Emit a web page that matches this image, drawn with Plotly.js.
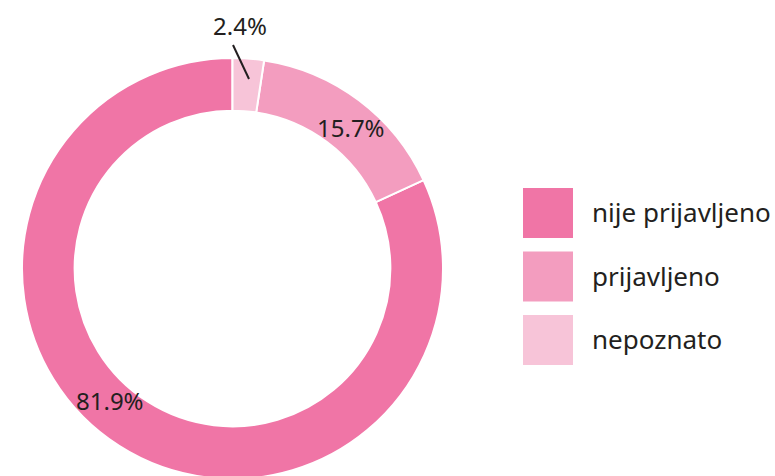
<!DOCTYPE html>
<html>
<head>
<meta charset="utf-8">
<script src="https://cdn.plot.ly/plotly-3.0.1.min.js"></script>
<style>
html,body{margin:0;padding:0;overflow:hidden;background:#fff;}
#chart{width:775px;height:482px;}
</style>
</head>
<body>
<div id="chart"></div>
<script>
const categories = ["nije prijavljeno", "prijavljeno", "nepoznato"];
const values = [81.9, 15.7, 2.4];
const valueLabels = ["81.9%", "15.7%", "2.4%"];
const colors = ["#f075a6", "#f39dbf", "#f7c4d8"];

const W = 775, H = 482;
const px = x => x / W;
const py = y => 1 - y / H;
const cx = 232.5, cy = 268.5, R = 210.5;
const textColor = "#231f20";
const font = "Noto Sans, Open Sans, sans-serif";

const total = values.reduce((a, b) => a + b, 0);
const rot = 360 * (total - values[0]) / total;

const trace = {
  type: "pie",
  labels: categories,
  values: values,
  sort: false,
  direction: "counterclockwise",
  rotation: rot,
  hole: 0.75,
  textinfo: "none",
  hoverinfo: "label+percent",
  marker: {colors: colors, line: {color: "#ffffff", width: 2}},
  domain: {x: [px(cx - R), px(cx + R)], y: [py(cy + R), py(cy - R)]},
  showlegend: false
};

// label positions (text placement only)
const labelPos = [[110, 400], [351, 128], [240, 25]];
const annotations = valueLabels.map((t, i) => ({
  text: t, x: px(labelPos[i][0]), y: py(labelPos[i][1]),
  xref: "paper", yref: "paper", showarrow: false,
  xanchor: "center", yanchor: "middle",
  font: {family: font, size: 24, color: textColor}
}));

// custom legend built from categories/colors
const shapes = [];
const legTop = 188, legStep = 63.5, sq = 50, legX = 523;
categories.forEach((c, i) => {
  const y0 = legTop + i * legStep;
  shapes.push({type: "rect", xref: "paper", yref: "paper",
    x0: px(legX), x1: px(legX + sq), y0: py(y0 + sq), y1: py(y0),
    fillcolor: colors[i], line: {width: 0}});
  annotations.push({text: c, x: px(590), y: py(y0 + sq / 2 - 1),
    xref: "paper", yref: "paper", showarrow: false,
    xanchor: "left", yanchor: "middle",
    font: {family: font, size: 26, color: textColor}});
});
// leader line for the small slice label
shapes.push({type: "line", xref: "paper", yref: "paper",
  x0: px(233), y0: py(45), x1: px(249), y1: py(79),
  line: {color: "#231f20", width: 2}});

const layout = {
  width: W, height: H,
  margin: {l: 0, r: 0, t: 0, b: 0},
  paper_bgcolor: "#ffffff",
  showlegend: false,
  annotations: annotations,
  shapes: shapes
};

Plotly.newPlot("chart", [trace], layout, {displayModeBar: false, staticPlot: true});
</script>
</body>
</html>
